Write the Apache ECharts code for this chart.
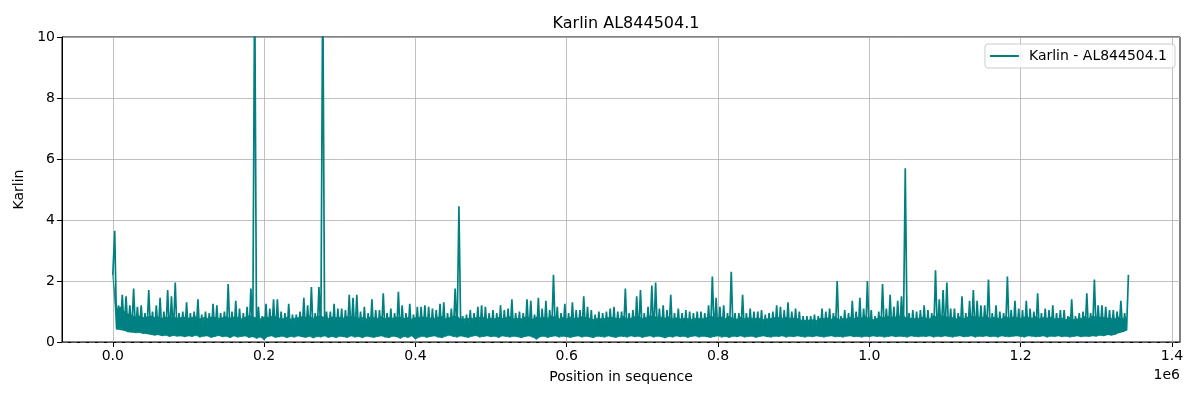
<!DOCTYPE html>
<html>
<head>
<meta charset="utf-8">
<title>Karlin AL844504.1</title>
<script src="https://cdn.jsdelivr.net/npm/echarts@6/dist/echarts.min.js"></script>
<style>
  html, body { margin: 0; padding: 0; background: #fff; }
  #chart { width: 1200px; height: 400px; }
</style>
</head>
<body>
<div id="chart"></div>
<script>
// bins of 5000 bp along the sequence
var binSize = 5000;

// top of each bin (peaks)
var upper = [
  3.65, 1.2, 1.55, 1.5, 1.2, 1.75, 1.15, 1.2, 0.95, 1.7,
  1.0, 1.2, 1.45, 1.0, 1.7, 1.5, 1.95, 0.95, 1.0, 1.3,
  0.95, 1.0, 1.4, 0.9, 1.0, 0.95, 1.25, 1.2, 0.95, 1.0,
  1.9, 1.0, 1.35, 1.1, 0.95, 1.15, 1.75, 12, 1.15, 0.85,
  1.25, 1.1, 1.4, 1.4, 1.0, 0.95, 1.25, 0.9, 0.9, 1.0,
  1.45, 1.2, 1.8, 0.95, 1.8, 12, 1.0, 1.0, 1.25, 1.1,
  1.1, 1.05, 1.55, 1.45, 1.55, 1.0, 1.15, 0.95, 1.4, 1.05,
  1.05, 1.6, 0.95, 1.1, 0.95, 1.65, 1.2, 0.95, 1.25, 0.9,
  1.15, 1.15, 1.2, 1.15, 1.1, 1.05, 1.25, 1.3, 0.95, 1.1,
  1.75, 4.45, 0.85, 0.9, 1.05, 0.95, 1.15, 1.2, 1.15, 0.95,
  1.05, 0.95, 1.2, 1.05, 1.1, 1.4, 0.95, 1.0, 0.95, 1.4,
  1.35, 0.9, 1.45, 1.1, 1.35, 1.05, 2.2, 1.15, 0.95, 1.25,
  0.95, 1.3, 1.05, 1.05, 1.5, 1.15, 1.05, 0.9, 1.0, 0.95,
  1.0, 1.1, 1.15, 1.0, 1.0, 1.75, 0.95, 1.05, 1.5, 1.7,
  0.95, 1.15, 1.85, 1.95, 1.1, 1.2, 1.05, 1.55, 0.95, 1.1,
  0.95, 1.05, 1.0, 0.95, 1.0, 1.0, 0.95, 1.2, 2.15, 1.45,
  1.15, 1.2, 0.95, 2.3, 0.95, 0.95, 1.55, 0.95, 1.1, 1.0,
  1.0, 1.05, 0.9, 0.95, 1.0, 1.2, 1.15, 1.05, 1.3, 1.0,
  1.1, 1.0, 0.85, 0.85, 0.85, 0.9, 0.85, 1.1, 1.0, 1.1,
  0.95, 2.0, 0.85, 1.05, 0.95, 1.35, 1.0, 1.45, 1.1, 2.0,
  1.05, 0.85, 1.0, 1.9, 1.1, 1.55, 1.15, 1.35, 1.5, 5.7,
  0.95, 1.05, 1.0, 1.05, 1.2, 1.05, 0.95, 2.35, 1.4, 1.7,
  1.95, 1.1, 1.1, 0.95, 1.5, 0.95, 1.35, 1.7, 1.35, 1.2,
  1.2, 2.05, 0.95, 1.2, 1.0, 0.95, 2.15, 1.05, 1.35, 1.1,
  1.05, 1.35, 1.1, 1.0, 1.6, 0.95, 1.1, 1.05, 1.2, 0.95,
  1.05, 1.05, 0.85, 1.4, 0.85, 0.95, 1.0, 1.6, 0.95, 2.05,
  1.2, 1.2, 1.15, 1.05, 1.05, 1.0, 1.35, 0.95, 2.2
];

// bottom of each bin
var lower = [
  2.2, 0.42, 0.4, 0.38, 0.33, 0.32, 0.3, 0.31, 0.28, 0.27,
  0.25, 0.22, 0.24, 0.2, 0.22, 0.18, 0.21, 0.19, 0.2, 0.17,
  0.2, 0.18, 0.22, 0.16, 0.19, 0.2, 0.15, 0.18, 0.21, 0.17,
  0.19, 0.14, 0.2, 0.16, 0.18, 0.2, 0.15, 0.17, 0.12, 0.16,
  0.08, 0.18, 0.2, 0.15, 0.17, 0.19, 0.14, 0.18, 0.16, 0.2,
  0.17, 0.15, 0.19, 0.13, 0.18, 0.16, 0.2, 0.15, 0.18, 0.14,
  0.19, 0.17, 0.15, 0.2, 0.16, 0.18, 0.14, 0.19, 0.17, 0.15,
  0.18, 0.2, 0.16, 0.14, 0.19, 0.17, 0.12, 0.18, 0.15, 0.2,
  0.1, 0.16, 0.19, 0.15, 0.18, 0.2, 0.16, 0.14, 0.19, 0.22,
  0.18, 0.16, 0.2, 0.17, 0.15, 0.19, 0.21, 0.16, 0.18, 0.2,
  0.17, 0.19, 0.15, 0.2, 0.18, 0.16, 0.19, 0.17, 0.14, 0.18,
  0.2, 0.16, 0.09, 0.17, 0.19, 0.15, 0.18, 0.2, 0.16, 0.19,
  0.17, 0.15, 0.18, 0.2, 0.16, 0.19, 0.17, 0.14, 0.19, 0.18,
  0.16, 0.2, 0.17, 0.15, 0.19, 0.18, 0.16, 0.2, 0.17, 0.19,
  0.15, 0.18, 0.2, 0.16, 0.19, 0.17, 0.13, 0.18, 0.16, 0.2,
  0.17, 0.19, 0.15, 0.18, 0.2, 0.16, 0.19, 0.17, 0.15, 0.18,
  0.2, 0.16, 0.18, 0.15, 0.19, 0.17, 0.2, 0.16, 0.18, 0.19,
  0.15, 0.18, 0.2, 0.17, 0.16, 0.19, 0.18, 0.2, 0.16, 0.19,
  0.17, 0.2, 0.18, 0.16, 0.19, 0.17, 0.2, 0.18, 0.16, 0.19,
  0.2, 0.17, 0.18, 0.16, 0.19, 0.2, 0.17, 0.18, 0.16, 0.19,
  0.17, 0.2, 0.18, 0.19, 0.16, 0.18, 0.2, 0.17, 0.19, 0.18,
  0.16, 0.2, 0.18, 0.17, 0.19, 0.18, 0.2, 0.16, 0.19, 0.17,
  0.2, 0.18, 0.16, 0.19, 0.2, 0.17, 0.18, 0.2, 0.16, 0.19,
  0.18, 0.2, 0.17, 0.19, 0.16, 0.2, 0.18, 0.17, 0.19, 0.2,
  0.18, 0.16, 0.2, 0.19, 0.17, 0.18, 0.2, 0.16, 0.19, 0.18,
  0.2, 0.17, 0.19, 0.16, 0.18, 0.2, 0.17, 0.19, 0.18, 0.2,
  0.19, 0.22, 0.2, 0.24, 0.22, 0.25, 0.3, 0.33, 0.38
];

// top of the dense solid part of the trace
var body = [
  2.2, 1.1, 1.15, 1.0, 0.92, 0.88, 0.82, 0.85, 0.8, 0.82,
  0.85, 0.8, 0.82, 0.78, 0.82, 0.8, 0.84, 0.78, 0.8, 0.82,
  0.78, 0.81, 0.83, 0.76, 0.8, 0.78, 0.82, 0.81, 0.77, 0.8,
  0.83, 0.78, 0.82, 0.8, 0.76, 0.81, 0.86, 0.83, 0.8, 0.76,
  0.82, 0.8, 0.84, 0.83, 0.78, 0.76, 0.81, 0.75, 0.78, 0.8,
  0.83, 0.81, 0.85, 0.78, 0.84, 0.86, 0.8, 0.78, 0.82, 0.8,
  0.81, 0.79, 0.84, 0.82, 0.83, 0.78, 0.8, 0.76, 0.82, 0.79,
  0.78, 0.83, 0.76, 0.8, 0.78, 0.82, 0.81, 0.77, 0.8, 0.75,
  0.8, 0.81, 0.82, 0.8, 0.79, 0.78, 0.82, 0.83, 0.76, 0.8,
  0.84, 0.86, 0.74, 0.76, 0.78, 0.77, 0.8, 0.81, 0.8, 0.76,
  0.78, 0.76, 0.81, 0.78, 0.8, 0.83, 0.76, 0.78, 0.76, 0.82,
  0.81, 0.75, 0.82, 0.79, 0.81, 0.78, 0.86, 0.8, 0.76, 0.81,
  0.76, 0.82, 0.78, 0.79, 0.83, 0.8, 0.78, 0.74, 0.77, 0.76,
  0.78, 0.8, 0.81, 0.78, 0.77, 0.84, 0.76, 0.78, 0.83, 0.85,
  0.76, 0.8, 0.85, 0.86, 0.8, 0.81, 0.78, 0.83, 0.76, 0.79,
  0.76, 0.78, 0.77, 0.75, 0.78, 0.77, 0.76, 0.8, 0.84, 0.82,
  0.8, 0.81, 0.76, 0.85, 0.76, 0.75, 0.82, 0.76, 0.79, 0.78,
  0.77, 0.78, 0.74, 0.76, 0.77, 0.8, 0.8, 0.78, 0.81, 0.77,
  0.79, 0.77, 0.72, 0.71, 0.72, 0.73, 0.71, 0.78, 0.77, 0.79,
  0.75, 0.84, 0.73, 0.78, 0.76, 0.81, 0.77, 0.82, 0.79, 0.84,
  0.78, 0.73, 0.77, 0.83, 0.8, 0.84, 0.81, 0.82, 0.84, 0.88,
  0.76, 0.78, 0.77, 0.78, 0.81, 0.78, 0.76, 0.86, 0.83, 0.85,
  0.86, 0.8, 0.8, 0.76, 0.83, 0.76, 0.82, 0.85, 0.82, 0.81,
  0.81, 0.86, 0.76, 0.81, 0.78, 0.76, 0.85, 0.78, 0.82, 0.8,
  0.78, 0.82, 0.8, 0.78, 0.84, 0.76, 0.8, 0.78, 0.81, 0.76,
  0.78, 0.78, 0.73, 0.82, 0.73, 0.76, 0.77, 0.84, 0.76, 0.86,
  0.81, 0.81, 0.8, 0.78, 0.78, 0.77, 0.82, 0.76, 0.7
];

var xTicks = [0, 200000, 400000, 600000, 800000, 1000000, 1200000, 1400000];

var font = 'DejaVu Sans';
var teal = '#008080';

// zigzag trace and band segments (bin i to bin i+1)
var trace = [], band = [];
for (var i = 0; i < upper.length; i++) {
    trace.push([i * binSize, lower[i]]);
    trace.push([i * binSize + binSize / 2, upper[i]]);
    if (i + 1 < upper.length) {
        band.push([i * binSize, lower[i], body[i], (i + 1) * binSize, lower[i + 1], body[i + 1]]);
    }
}

function renderBand(params, api) {
    var p1 = api.coord([api.value(0), api.value(1)]);
    var p2 = api.coord([api.value(3), api.value(4)]);
    var p3 = api.coord([api.value(3), api.value(5)]);
    var p4 = api.coord([api.value(0), api.value(2)]);
    return {
        type: 'polygon',
        shape: {points: [p1, p2, p3, p4]},
        style: {fill: teal, stroke: teal, lineWidth: 0.6}
    };
}

var myChart = echarts.init(document.getElementById('chart'), null, {renderer: 'canvas'});

var option = {
    animation: false,
    backgroundColor: '#fff',
    title: {
        text: 'Karlin AL844504.1',
        left: 621, top: 11, textAlign: 'center',
        textStyle: {fontFamily: font, fontSize: 16, fontWeight: 'normal', color: '#000'}
    },
    legend: {
        data: [{name: 'Karlin - AL844504.1', icon: 'rect'}],
        right: 25, top: 44,
        itemWidth: 29, itemHeight: 2,
        padding: [5, 8, 5, 5],
        borderColor: '#cccccc', borderWidth: 1, borderRadius: 3,
        backgroundColor: 'rgba(255,255,255,0.8)',
        textStyle: {fontFamily: font, fontSize: 14, color: '#000', padding: [0, 0, 0, 5]}
    },
    grid: {
        left: 62, right: 20, top: 37, bottom: 58,
        show: true, borderColor: '#000', borderWidth: 1
    },
    graphic: [{
        type: 'text', right: 20, top: 368,
        style: {text: '1e6', font: '14px "DejaVu Sans"', fill: '#000'}
    }],
    xAxis: {
        type: 'value', min: -67175, max: 1410675,
        name: 'Position in sequence', nameLocation: 'middle', nameGap: 28,
        nameTextStyle: {fontFamily: font, fontSize: 14, color: '#000'},
        axisLine: {show: true, onZero: false, lineStyle: {color: '#000', width: 1}},
        axisTick: {show: true, length: 5, customValues: xTicks, lineStyle: {color: '#000'}},
        axisLabel: {
            customValues: xTicks, margin: 7,
            fontFamily: font, fontSize: 14, color: '#000',
            formatter: function (v) { return (v / 1e6).toFixed(1); }
        },
        splitLine: {show: true, lineStyle: {color: '#b0b0b0', width: 0.8}}
    },
    yAxis: {
        type: 'value', min: 0, max: 10, interval: 2,
        name: 'Karlin', nameLocation: 'middle', nameGap: 30, nameRotate: 90,
        nameTextStyle: {fontFamily: font, fontSize: 14, color: '#000'},
        axisLine: {show: true, onZero: false, lineStyle: {color: '#000', width: 1}},
        axisTick: {show: true, length: 5, lineStyle: {color: '#000'}},
        axisLabel: {margin: 7, fontFamily: font, fontSize: 14, color: '#000'},
        splitLine: {show: true, lineStyle: {color: '#b0b0b0', width: 0.8}}
    },
    series: [{
        name: 'band', type: 'custom', data: band,
        renderItem: renderBand, silent: true, clip: true,
        encode: {x: [0, 3], y: [1, 2, 4, 5]}
    }, {
        name: 'Karlin - AL844504.1', type: 'line', data: trace,
        showSymbol: false, clip: true,
        color: teal,
        lineStyle: {color: teal, width: 1.7},
        markLine: {
            silent: true, symbol: 'none',
            label: {show: false},
            lineStyle: {color: '#555', type: [6, 3], width: 1.2},
            data: [{yAxis: 0}]
        }
    }]
};

if (option && typeof option === "object") {
    myChart.setOption(option, true);
}
</script>
</body>
</html>
